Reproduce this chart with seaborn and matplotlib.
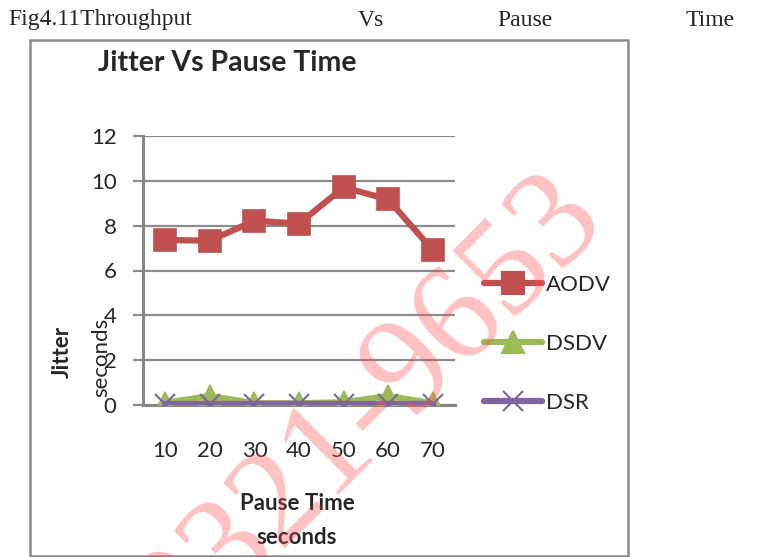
import matplotlib
matplotlib.use("Agg")
import matplotlib.pyplot as plt
import seaborn as sns
import pandas as pd
from matplotlib.patches import Rectangle
from matplotlib.lines import Line2D

pause_time = [10, 20, 30, 40, 50, 60, 70]
aodv = [7.36, 7.33, 8.22, 8.09, 9.71, 9.17, 6.91]
dsdv = [0.1, 0.4, 0.08, 0.08, 0.12, 0.4, 0.08]
dsr = [0.05, 0.05, 0.05, 0.05, 0.05, 0.05, 0.05]
y_ticks = [0, 2, 4, 6, 8, 10, 12]
series_names = ["AODV", "DSDV", "DSR"]

df = pd.DataFrame({
    "Pause": pause_time * 3,
    "Jitter": aodv + dsdv + dsr,
    "Protocol": [series_names[0]] * 7 + [series_names[1]] * 7 + [series_names[2]] * 7,
})

sns.set_theme(style="white")
plt.rcParams['font.family'] = ['Lato', 'DejaVu Sans']

W, H = 762, 557
fig = plt.figure(figsize=(W / 100, H / 100), dpi=100)
ax = fig.add_axes([143 / W, (H - 405) / H, (455 - 143) / W, (405 - 136) / H])

palette = {"AODV": "#C0504D", "DSDV": "#9BBB59", "DSR": "#8064A2"}
markers = {"AODV": "s", "DSDV": "^", "DSR": "x"}
sizes = {"AODV": 16, "DSDV": 16, "DSR": 14}

for name in series_names:
    sub = df[df["Protocol"] == name]
    sns.lineplot(data=sub, x="Pause", y="Jitter", color=palette[name], marker=markers[name],
                 markersize=sizes[name], linewidth=4.5, markeredgecolor=palette[name],
                 markeredgewidth=1.2 if name != "DSR" else 1.5, ax=ax, legend=False, zorder=3)

ax.set_xlim(5, 75)
ax.set_ylim(0, 12)
ax.set_yticks(y_ticks)
ax.set_xticks(pause_time)
ax.set_xticklabels([str(v) for v in pause_time])
ax.grid(axis="y", color="#8c8c8c", linewidth=1.6)
ax.grid(axis="x", visible=False)
for s in ["top", "right"]:
    ax.spines[s].set_visible(False)
ax.spines["left"].set_color("#868686")
ax.spines["left"].set_linewidth(2.2)
ax.spines["bottom"].set_color("#868686")
ax.spines["bottom"].set_linewidth(2.2)
ax.tick_params(axis="y", length=7, width=1.6, color="#8c8c8c", labelsize=16, pad=12, left=True)
ax.tick_params(axis="x", length=0, labelsize=16, pad=26)
ax.set_xlabel("")
ax.set_ylabel("")

# axis labels
fig.text(297 / W, 1 - 503 / H, "Pause Time", ha="center", va="center", fontsize=16, fontweight="bold")
fig.text(297 / W, 1 - 537 / H, "seconds", ha="center", va="center", fontsize=16, fontweight="bold")
fig.text(62 / W, 1 - 352 / H, "Jitter", ha="center", va="center", fontsize=16, fontweight="bold", rotation=90)
fig.text(101 / W, 1 - 357 / H, "seconds", ha="center", va="center", fontsize=16, rotation=90)

# chart title
fig.text(227 / W, 1 - 63 / H, "Jitter Vs Pause Time", ha="center", va="center", fontsize=20.5, fontweight="bold")

# figure caption (serif)
for txt, x in [("Fig4.11Throughput", 8), ("Vs", 358), ("Pause", 497), ("Time", 686)]:
    fig.text(x / W, 1 - 20 / H, txt, ha="left", va="center", fontsize=17, family=["Liberation Serif"])

# chart frame
fig.patches.append(Rectangle((30 / W, 1 - 556 / H), (628 - 30) / W, (556 - 40) / H,
                             transform=fig.transFigure, fill=False, edgecolor="#8a8a8a", linewidth=1.8))

# legend
handles = [Line2D([0], [0], color=palette[n], marker=markers[n], markersize=sizes[n], linewidth=4.5,
                  markeredgecolor=palette[n], markeredgewidth=1.5) for n in series_names]
leg = fig.legend(handles, series_names, loc="center left", bbox_to_anchor=(464 / W, 1 - 344 / H),
                 frameon=False, fontsize=16, handlelength=2.6, labelspacing=1.75, handletextpad=0.2)

# watermark
fig.text(371 / W, 1 - 410 / H, "0321-9653", ha="center", va="center", fontsize=100, rotation=45,
         color="#ff4d4d", alpha=0.35, family=["Liberation Serif"], zorder=10)

fig.savefig("out.png", dpi=100)
